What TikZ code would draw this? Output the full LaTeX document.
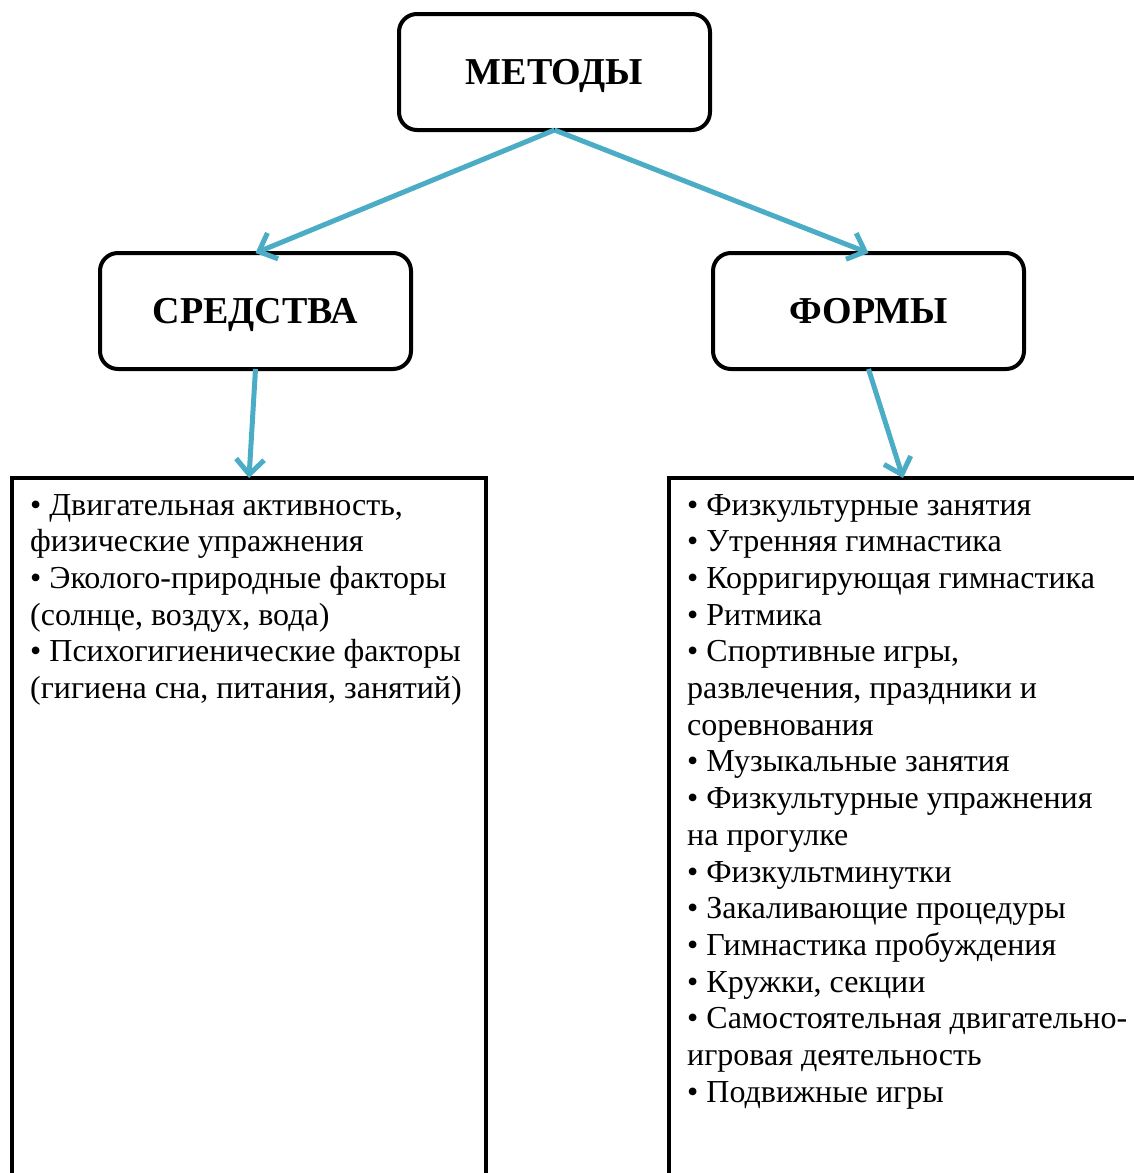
\documentclass[tikz,border=0pt]{standalone}
\usepackage{fontspec}
\setmainfont{Liberation Serif}
\usetikzlibrary{arrows.meta}
\definecolor{arrblue}{RGB}{75,172,198}
\begin{document}
\begin{tikzpicture}[x=1pt,y=-1pt,
  headbox/.style={draw, line width=4pt, rounded corners=18pt, minimum width=311pt,
    minimum height=116pt, inner sep=0pt, outer sep=0pt, text depth=0pt,
    font=\fontsize{38}{44}\selectfont\bfseries},
  listbox/.style={draw, line width=4pt, anchor=north west, inner sep=0pt, outer sep=0pt,
    minimum height=800pt},
  con/.style={draw=arrblue, line width=5pt,
    -{Straight Barb[length=15pt,width=28pt,line width=5pt]}},
  ln/.style={anchor=base west, inner sep=0pt, font=\fontsize{32}{36.7}\selectfont}]
\useasboundingbox (0,0) rectangle (1134,1173);
\clip (0,0) rectangle (1134,1173);

\node[headbox] (met) at (554.5,72) {МЕТОДЫ};
\node[headbox] (sred) at (255.5,311) {СРЕДСТВА};
\node[headbox] (form) at (868.5,311) {ФОРМЫ};

\node[listbox, minimum width=474pt] (lbox) at (12,478) {};
\node[listbox, minimum width=468pt] (rbox) at (669,478) {};

\draw[con] (met.south) -- (sred.north);
\draw[con] (met.south) -- (form.north);
\draw[con] (sred.south) -- (lbox.north);
\draw[con] (form.south) -- (rbox.north);

\foreach \t [count=\i from 0] in {
  {• Двигательная активность,},
  {физические упражнения},
  {• Эколого-природные факторы},
  {(солнце, воздух, вода)},
  {• Психогигиенические факторы},
  {(гигиена сна, питания, занятий)}}
  \node[ln] (left\i) at (30,515+\i*36.7) {\t};

\foreach \t [count=\i from 0] in {
  {• Физкультурные занятия},
  {• Утренняя гимнастика},
  {• Корригирующая гимнастика},
  {• Ритмика},
  {• Спортивные игры,},
  {развлечения, праздники и},
  {соревнования},
  {• Музыкальные занятия},
  {• Физкультурные упражнения},
  {на прогулке},
  {• Физкультминутки},
  {• Закаливающие процедуры},
  {• Гимнастика пробуждения},
  {• Кружки, секции},
  {• Самостоятельная двигательно-},
  {игровая деятельность},
  {• Подвижные игры}}
  \node[ln] (right\i) at (687,515+\i*36.7) {\t};
\end{tikzpicture}
\end{document}
